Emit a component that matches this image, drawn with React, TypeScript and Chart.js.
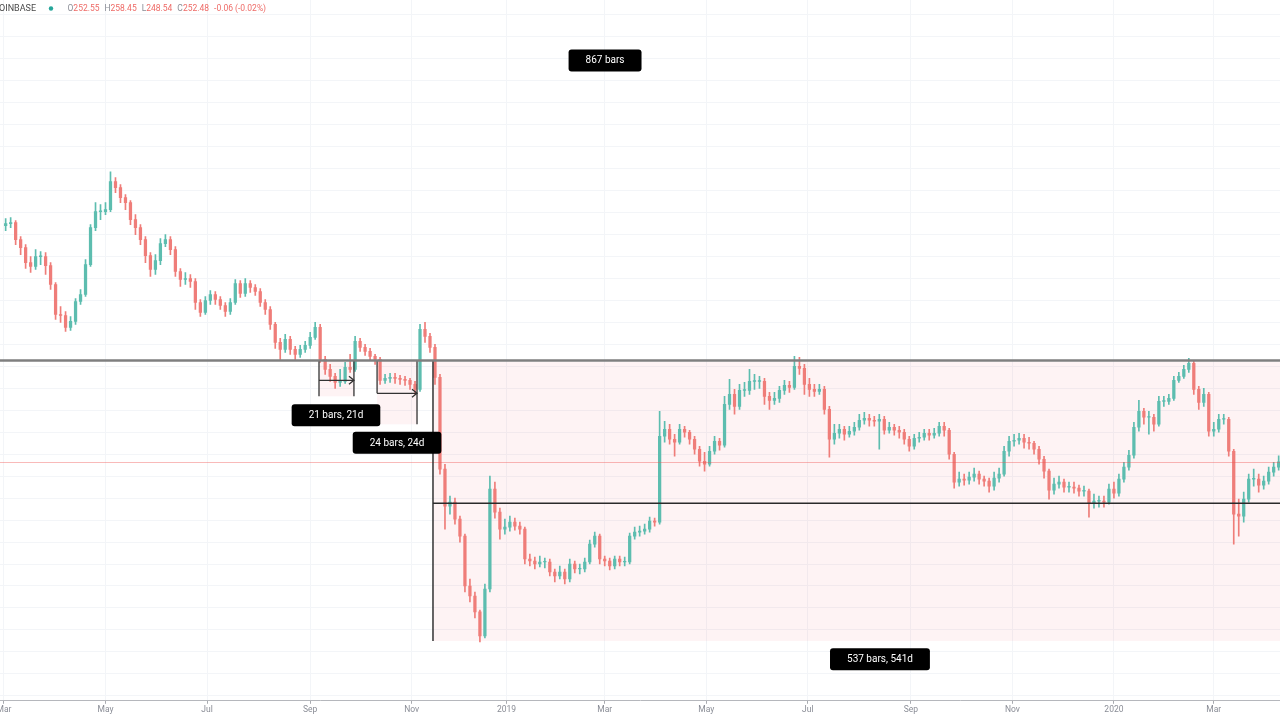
import React, { useEffect, useRef } from "react";
import { Chart, registerables } from "chart.js";

Chart.register(...registerables);

// ---------------- data ----------------
const symbolName = "COINBASE";
const headerLetters = ["O", "H", "L", "C"];
const headerValues = ["252.55", "258.45", "248.54", "252.48"];
const headerChange = "-0.06 (-0.02%)";

// each candle aggregates 3 daily bars; open = previous close
const barsPerCandle = 3;
const firstOpen = 489;
const closes = [
  491, 492, 475, 467, 452, 448, 458, 458, 449, 430,
  400, 399, 387, 393, 413, 420, 450, 487, 503, 503,
  505, 533, 527, 517, 512, 495, 487, 475, 459, 445,
  454, 471, 475, 465, 443, 435, 436, 433, 412, 402,
  414, 420, 415, 409, 403, 412, 431, 421, 431, 427,
  423, 412, 405, 390, 372, 365, 375, 365, 360, 365,
  369, 377, 387, 355, 345, 338, 332, 333, 347, 345,
  373, 367, 363, 358, 355, 334, 336, 337, 336, 335,
  334, 330, 325, 385, 378, 367, 337, 245, 208, 212,
  195, 178, 128, 118, 102, 78, 125, 225, 202, 185,
  187, 192, 188, 185, 155, 153, 150, 152, 152, 142,
  138, 142, 135, 150, 145, 145, 152, 170, 178, 155,
  153, 148, 155, 152, 152, 178, 182, 183, 185, 193,
  192, 278, 285, 275, 272, 285, 282, 275, 265, 253,
  250, 263, 273, 269, 310, 320, 308, 324, 324, 333,
  333, 333, 318, 314, 316, 324, 329, 327, 348, 346,
  330, 325, 323, 325, 305, 275, 281, 285, 280, 283,
  287, 294, 296, 294, 293, 295, 284, 287, 284, 282,
  275, 268, 276, 277, 281, 279, 281, 288, 284, 260,
  232, 235, 234, 237, 240, 235, 233, 228, 236, 240,
  263, 273, 274, 276, 272, 271, 265, 255, 243, 224,
  230, 232, 227, 227, 226, 223, 223, 211, 213, 213,
  212, 225, 221, 235, 247, 259, 287, 303, 297, 297,
  290, 313, 313, 316, 334, 338, 345, 351, 325, 312,
  320, 283, 285, 295, 295, 263, 200, 198, 215, 235,
  235, 229, 233, 242, 247, 252.48,
];
const highs = [
  496, 497, 494, 478, 470, 458, 465, 463, 462, 452,
  432, 408, 403, 398, 416, 425, 455, 490, 512, 510,
  512, 543, 537, 530, 520, 514, 500, 490, 478, 462,
  460, 476, 480, 478, 468, 446, 442, 440, 436, 415,
  418, 424, 423, 418, 412, 416, 435, 434, 436, 434,
  430, 426, 415, 408, 392, 376, 380, 378, 368, 369,
  373, 382, 392, 390, 358, 350, 341, 345, 352, 360,
  378, 376, 370, 366, 360, 357, 340, 341, 341, 339,
  338, 336, 333, 390, 392, 381, 370, 340, 250, 218,
  216, 198, 180, 135, 122, 104, 130, 238, 232, 206,
  195, 198, 196, 192, 187, 160, 157, 158, 156, 155,
  145, 148, 145, 155, 153, 150, 156, 174, 182, 180,
  158, 156, 158, 158, 157, 181, 187, 188, 190, 197,
  196, 303, 293, 290, 280, 290, 288, 284, 278, 268,
  262, 268, 278, 276, 318, 335, 325, 330, 332, 345,
  340, 338, 336, 322, 322, 328, 334, 333, 358, 357,
  350, 336, 330, 330, 328, 308, 290, 290, 288, 288,
  292, 300, 302, 300, 298, 300, 298, 292, 290, 288,
  285, 278, 280, 282, 285, 285, 286, 292, 292, 286,
  262, 242, 240, 242, 246, 243, 238, 236, 242, 246,
  268, 278, 280, 281, 280, 277, 273, 268, 258, 245,
  236, 238, 235, 232, 232, 229, 228, 225, 220, 218,
  218, 230, 232, 240, 252, 264, 292, 314, 306, 303,
  300, 318, 318, 320, 338, 342, 349, 356, 353, 328,
  326, 322, 292, 300, 300, 297, 265, 215, 222, 240,
  245, 240, 238, 247, 252, 258.45,
];
const lows = [
  484, 487, 470, 460, 446, 442, 445, 450, 440, 425,
  395, 392, 383, 384, 390, 410, 418, 448, 484, 495,
  500, 503, 522, 512, 505, 490, 480, 470, 452, 438,
  440, 450, 468, 460, 438, 428, 430, 427, 405, 398,
  400, 410, 410, 405, 398, 400, 410, 417, 418, 422,
  419, 408, 400, 385, 366, 355, 362, 360, 355, 357,
  362, 366, 375, 352, 340, 333, 326, 328, 331, 342,
  343, 363, 359, 354, 350, 330, 331, 332, 331, 330,
  329, 325, 320, 323, 372, 362, 330, 240, 185, 200,
  190, 172, 122, 112, 96, 72, 76, 122, 196, 175,
  180, 183, 184, 180, 150, 148, 145, 147, 146, 138,
  132, 135, 130, 132, 141, 140, 142, 150, 167, 150,
  148, 144, 145, 148, 148, 150, 175, 178, 180, 182,
  188, 190, 272, 270, 258, 270, 277, 270, 260, 248,
  243, 248, 260, 264, 267, 305, 300, 305, 318, 320,
  325, 326, 310, 305, 310, 312, 320, 322, 325, 340,
  320, 318, 318, 320, 300, 257, 270, 276, 274, 277,
  279, 284, 290, 288, 288, 265, 280, 281, 279, 276,
  270, 263, 265, 272, 274, 274, 276, 278, 278, 255,
  226, 228, 229, 230, 233, 230, 228, 222, 224, 232,
  238, 258, 268, 270, 266, 265, 260, 250, 236, 215,
  220, 226, 222, 222, 221, 218, 218, 197, 206, 207,
  207, 210, 216, 218, 232, 244, 256, 283, 290, 280,
  283, 288, 308, 310, 314, 332, 336, 342, 320, 305,
  308, 278, 278, 282, 290, 258, 170, 178, 192, 212,
  228, 222, 225, 230, 238, 244,
];

// x axis: daily bar index since 1 Mar 2018
const monthTickBars = [0, 61, 122, 184, 245, 302, 361, 422, 483, 545, 606, 667, 727];
const monthTickLabels = ["Mar", "May", "Jul", "Sep", "Nov", "2019", "Mar", "May", "Jul", "Sep", "Nov", "2020", "Mar"];

// drawings (in bar / price units)
const resistanceLevel = 354;
const supportLevel = 211;
const lastPrice = 252.48;
const bigRangeStartBar = 257.8;
const bigRangeBottom = 73;
const dateRangeA = { from: 189.3, to: 210.3, top: 353, leftBottom: 318, rightBottom: 318, arrow: 334, label: "21 bars, 21d", labelBar: 199.5, labelPrice: 299 };
const dateRangeB = { from: 224.2, to: 248.2, top: 353, leftBottom: 321, rightBottom: 290, arrow: 321, label: "24 bars, 24d", labelBar: 236.2, labelPrice: 271.6 };
const topTag = { label: "867 bars", bar: 361.2, price: 654.5 };
const bottomTag = { label: "537 bars, 541d", bar: 526.4, price: 54.5 };

// ---------------- styling ----------------
const xMinBar = -2.4;
const xMaxBar = 766.8;
const yMinPrice = 13;
const yMaxPrice = 715;
const yGridAnchor = 260;
const yGridStep = 22;
const upColor = "#5dbdaf";
const downColor = "#ef7d79";
const gridColor = "#f3f5f8";
const pinkFill = "rgba(242,54,69,0.06)";

function drawTag(ctx: CanvasRenderingContext2D, cx: number, cy: number, text: string) {
  ctx.font = "10px Roboto";
  const w = ctx.measureText(text).width + 34;
  const h = 22;
  ctx.fillStyle = "#000";
  ctx.beginPath();
  (ctx as any).roundRect(cx - w / 2, cy - h / 2, w, h, 3);
  ctx.fill();
  ctx.fillStyle = "#fff";
  ctx.textAlign = "center";
  ctx.textBaseline = "middle";
  ctx.fillText(text, cx, cy + 0.5);
}

function line(ctx: CanvasRenderingContext2D, x1: number, y1: number, x2: number, y2: number) {
  ctx.beginPath();
  ctx.moveTo(x1, y1);
  ctx.lineTo(x2, y2);
  ctx.stroke();
}

const drawingsPlugin = {
  id: "drawings",
  beforeDatasetsDraw(chart: any) {
    const { ctx, chartArea } = chart;
    const x = chart.scales.x;
    const y = chart.scales.y;
    ctx.save();
    ctx.fillStyle = pinkFill;
    const rx = x.getPixelForValue(bigRangeStartBar);
    const ryTop = y.getPixelForValue(resistanceLevel) + 1.5;
    const ryBot = y.getPixelForValue(bigRangeBottom);
    ctx.fillRect(rx, ryTop, chartArea.right - rx, ryBot - ryTop);
    for (const r of [dateRangeA, dateRangeB]) {
      const x1 = x.getPixelForValue(r.from);
      const x2 = x.getPixelForValue(r.to);
      const yt = y.getPixelForValue(r.top);
      const yb = y.getPixelForValue(Math.min(r.leftBottom, r.rightBottom));
      ctx.fillRect(x1, yt, x2 - x1, yb - yt);
    }
    ctx.restore();
  },
  afterDatasetsDraw(chart: any) {
    const { ctx, chartArea } = chart;
    const x = chart.scales.x;
    const y = chart.scales.y;
    ctx.save();
    // last price line
    ctx.strokeStyle = "rgba(239,83,80,0.4)";
    ctx.lineWidth = 1;
    const lp = Math.round(y.getPixelForValue(lastPrice)) + 0.5;
    line(ctx, chartArea.left, lp, chartArea.right, lp);

    // big range: vertical + support line
    const rx = x.getPixelForValue(bigRangeStartBar);
    ctx.strokeStyle = "#333";
    ctx.lineWidth = 1.5;
    line(ctx, rx, y.getPixelForValue(resistanceLevel), rx, y.getPixelForValue(bigRangeBottom));
    ctx.strokeStyle = "#2a2a2a";
    ctx.lineWidth = 1.5;
    const sy = y.getPixelForValue(supportLevel);
    line(ctx, rx, sy, chartArea.right, sy);

    // resistance line
    ctx.strokeStyle = "#7f7f7f";
    ctx.lineWidth = 2.5;
    const ry = y.getPixelForValue(resistanceLevel);
    line(ctx, chartArea.left, ry, chartArea.right, ry);

    // date ranges
    for (const r of [dateRangeA, dateRangeB]) {
      const x1 = x.getPixelForValue(r.from);
      const x2 = x.getPixelForValue(r.to);
      const yt = y.getPixelForValue(r.top);
      ctx.strokeStyle = "#333";
      ctx.lineWidth = 1.3;
      line(ctx, x1, yt, x1, y.getPixelForValue(r.leftBottom));
      line(ctx, x2, yt, x2, y.getPixelForValue(r.rightBottom));
      const ay = y.getPixelForValue(r.arrow);
      line(ctx, x1, ay, x2, ay);
      ctx.beginPath();
      ctx.moveTo(x2 - 5, ay - 4);
      ctx.lineTo(x2, ay);
      ctx.lineTo(x2 - 5, ay + 4);
      ctx.stroke();
      drawTag(ctx, x.getPixelForValue(r.labelBar), y.getPixelForValue(r.labelPrice), r.label);
    }
    drawTag(ctx, x.getPixelForValue(topTag.bar), y.getPixelForValue(topTag.price), topTag.label);
    drawTag(ctx, x.getPixelForValue(bottomTag.bar), y.getPixelForValue(bottomTag.price), bottomTag.label);
    ctx.restore();
  },
  afterDraw(chart: any) {
    const { ctx } = chart;
    ctx.save();
    ctx.textBaseline = "middle";
    ctx.font = "9px Roboto";
    ctx.textAlign = "right";
    ctx.fillStyle = "#4a4a4a";
    ctx.fillText(symbolName, 36, 8.5);
    ctx.beginPath();
    ctx.arc(51, 8.5, 2.2, 0, Math.PI * 2);
    ctx.fillStyle = "#26a69a";
    ctx.fill();
    ctx.textAlign = "left";
    ctx.font = "8.5px Roboto";
    let xp = 67.5;
    headerLetters.forEach((k, i) => {
      ctx.fillStyle = "#8a8d96";
      ctx.fillText(k, xp, 8.5);
      xp += ctx.measureText(k).width;
      ctx.fillStyle = "#ee6b67";
      ctx.fillText(headerValues[i], xp, 8.5);
      xp += ctx.measureText(headerValues[i]).width + 5;
    });
    ctx.fillStyle = "#ee6b67";
    ctx.fillText(headerChange, xp, 8.5);
    ctx.restore();
  },
};

export default function App() {
  const canvasRef = useRef<HTMLCanvasElement | null>(null);

  useEffect(() => {
    document.body.style.margin = "0";
    const canvas = canvasRef.current;
    if (!canvas) return;

    const opens = closes.map((_, i) => (i === 0 ? firstOpen : closes[i - 1]));
    const candleBar = closes.map((_, i) => i * barsPerCandle + 1);
    const colors = closes.map((c, i) => (c >= opens[i] ? upColor : downColor));

    const wickData = candleBar.map((b, i) => ({ x: b, y: [lows[i], highs[i]] }));
    const bodyData = candleBar.map((b, i) => {
      const lo = Math.min(opens[i], closes[i]);
      const hi = Math.max(opens[i], closes[i]);
      return { x: b, y: [lo, hi - lo < 0.8 ? lo + 0.8 : hi] };
    });

    const chart = new Chart(canvas, {
      type: "bar",
      data: {
        datasets: [
          {
            label: "wicks",
            data: wickData as any,
            backgroundColor: colors,
            barThickness: 1,
            grouped: false,
            borderWidth: 0,
            order: 2,
          } as any,
          {
            label: "bodies",
            data: bodyData as any,
            backgroundColor: colors,
            barThickness: 2.6,
            grouped: false,
            borderWidth: 0,
            order: 1,
          } as any,
        ],
      },
      options: {
        animation: false,
        responsive: false,
        maintainAspectRatio: false,
        layout: { padding: { left: 0, right: 0, top: 0, bottom: 4 } },
        plugins: { legend: { display: false }, tooltip: { enabled: false } },
        events: [],
        scales: {
          x: {
            type: "linear",
            min: xMinBar,
            max: xMaxBar,
            offset: false,
            grid: { color: gridColor, offset: false, drawTicks: true, tickLength: 3, tickColor: "#a9abb0" },
            border: { display: true, color: "#b5b7bc", width: 1 },
            ticks: {
              autoSkip: false,
              maxRotation: 0,
              padding: 1,
              color: "#8a8d96",
              font: { family: "Roboto", size: 8.5 },
              callback: (_v: any, i: number) => monthTickLabels[i],
            },
            afterBuildTicks: (scale: any) => {
              scale.ticks = monthTickBars.map((v) => ({ value: v }));
            },
            afterFit: (scale: any) => {
              scale.paddingLeft = 0;
              scale.paddingRight = 0;
            },
          } as any,
          y: {
            type: "linear",
            min: yMinPrice,
            max: yMaxPrice,
            grid: { color: gridColor, drawTicks: false },
            border: { display: false },
            ticks: { display: false },
            afterBuildTicks: (scale: any) => {
              const t: { value: number }[] = [];
              for (let v = yGridAnchor; v >= yMinPrice; v -= yGridStep) t.push({ value: v });
              for (let v = yGridAnchor + yGridStep; v <= yMaxPrice; v += yGridStep) t.push({ value: v });
              t.sort((a, b) => a.value - b.value);
              scale.ticks = t;
            },
          } as any,
        },
      },
      plugins: [drawingsPlugin],
    });

    return () => chart.destroy();
  }, []);

  return (
    <div style={{ width: 1280, height: 720, background: "#fff", position: "relative" }}>
      <canvas ref={canvasRef} width={1280} height={720} style={{ display: "block" }} />
    </div>
  );
}
